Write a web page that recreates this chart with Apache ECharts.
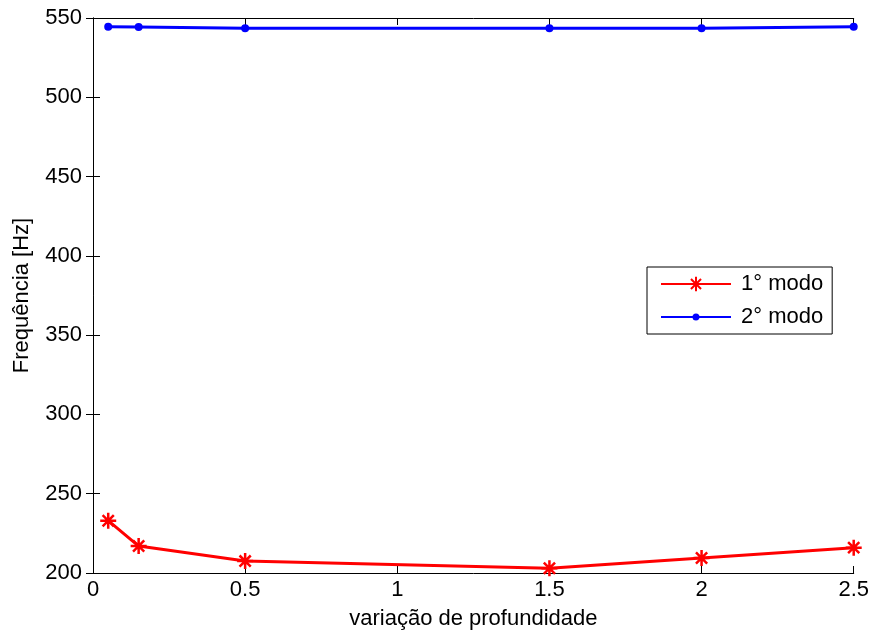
<!DOCTYPE html>
<html>
<head>
<meta charset="utf-8">
<script src="https://cdn.jsdelivr.net/npm/echarts@6/dist/echarts.min.js"></script>
<style>
  html, body { margin: 0; padding: 0; background: #fff; }
  #chart { width: 872px; height: 635px; }
</style>
</head>
<body>
<div id="chart"></div>
<script>
// Depth variation (x) and natural frequencies of the first two modes
const depth = [0.05, 0.15, 0.5, 1.5, 2.0, 2.5];
const mode1 = [233, 217, 207.5, 203, 209.5, 216];
const mode2 = [544.5, 544.3, 543.6, 543.6, 543.6, 544.5];
const xTicks = ['0', '0.5', '1', '1.5', '2', '2.5'];

const FONT = 'Liberation Sans, Arial, sans-serif';
const FS = 22;
// stroked asterisk marker (horizontal, vertical and both diagonals)
const asterisk = 'path://M0,5L10,5M5,0L5,10M1.5,1.5L8.5,8.5M8.5,1.5L1.5,8.5';
// legend glyph for the second series: line with a small dot in the middle
const lineDot = 'path://M0,9L70,9L70,11L0,11Z M35,6.5A3.5,3.5,0,1,1,34.99,6.5Z';

const chart = echarts.init(document.getElementById('chart'));

const boxAxis = {
  axisLine: { show: true, lineStyle: { color: '#000', width: 1 } },
  axisTick: { show: true, inside: true, length: 7, lineStyle: { color: '#000' } },
  splitLine: { show: false }
};

chart.setOption({
  animation: false,
  backgroundColor: '#fff',
  grid: { left: 93, top: 18, right: 17, bottom: 61 },
  legend: {
    orient: 'vertical',
    left: 647,
    top: 267,
    itemWidth: 70,
    itemHeight: 18,
    itemGap: 11,
    padding: [6, 9, 6, 13],
    borderColor: '#000',
    borderWidth: 1,
    backgroundColor: '#fff',
    textStyle: { fontFamily: FONT, fontSize: FS, color: '#000', padding: [0, 0, 0, 5] },
    data: [
      { name: '1° modo' },
      { name: '2° modo', icon: lineDot }
    ]
  },
  xAxis: [
    Object.assign({
      type: 'value', min: 0, max: 2.5, interval: 0.5, position: 'bottom',
      name: 'variação de profundidade', nameLocation: 'middle', nameGap: 35,
      nameTextStyle: { fontFamily: FONT, fontSize: FS, color: '#000' },
      axisLabel: {
        fontFamily: FONT, fontSize: FS, color: '#000', margin: 6,
        formatter: (v) => xTicks[Math.round(v / 0.5)]
      }
    }, boxAxis),
    Object.assign({
      type: 'value', min: 0, max: 2.5, interval: 0.5, position: 'top',
      axisLabel: { show: false }
    }, boxAxis)
  ],
  yAxis: [
    Object.assign({
      type: 'value', min: 200, max: 550, interval: 50, position: 'left',
      name: 'Frequência [Hz]', nameLocation: 'middle', nameGap: 60,
      nameTextStyle: { fontFamily: FONT, fontSize: FS, color: '#000' },
      axisLabel: { fontFamily: FONT, fontSize: FS, color: '#000', margin: 11 }
    }, boxAxis),
    Object.assign({
      type: 'value', min: 200, max: 550, interval: 50, position: 'right',
      axisLabel: { show: false }
    }, boxAxis)
  ],
  series: [
    {
      name: '1° modo',
      type: 'line',
      data: depth.map((x, i) => [x, mode1[i]]),
      symbol: asterisk,
      symbolSize: 16,
      showAllSymbol: true,
      lineStyle: { color: '#ff0000', width: 3 },
      itemStyle: { color: 'rgba(0,0,0,0)', borderColor: '#ff0000', borderWidth: 2.5 }
    },
    {
      name: '2° modo',
      type: 'line',
      data: depth.map((x, i) => [x, mode2[i]]),
      symbol: 'circle',
      symbolSize: 8,
      showAllSymbol: true,
      lineStyle: { color: '#0000ff', width: 3 },
      itemStyle: { color: '#0000ff', borderWidth: 0 }
    }
  ]
});
</script>
</body>
</html>
